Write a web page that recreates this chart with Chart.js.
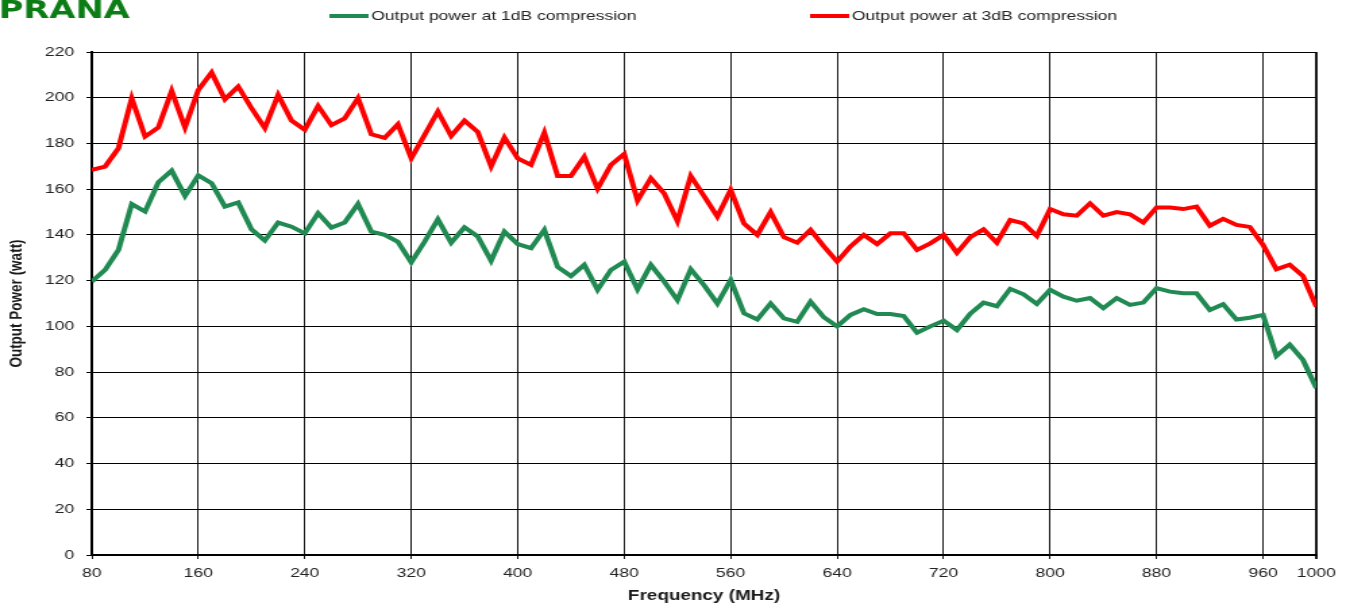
<!DOCTYPE html>
<html>
<head>
<meta charset="utf-8">
<title>Output power vs frequency</title>
<script src="https://cdn.jsdelivr.net/npm/chart.js@4.4.1/dist/chart.umd.min.js"></script>
<style>
  html, body { margin: 0; padding: 0; background: #fff; overflow: hidden; }
</style>
</head>
<body>
<!-- the reference is stretched sideways, so the canvas is drawn narrow and widened by its inline style -->
<canvas id="powerChart" width="997" height="608" style="display:block;width:1346px;height:608px"></canvas>
<script>
// Frequency steps (MHz)
const frequencies = [
    80, 90, 100, 110, 120, 130, 140, 150, 160, 170,
    180, 190, 200, 210, 220, 230, 240, 250, 260, 270,
    280, 290, 300, 310, 320, 330, 340, 350, 360, 370,
    380, 390, 400, 410, 420, 430, 440, 450, 460, 470,
    480, 490, 500, 510, 520, 530, 540, 550, 560, 570,
    580, 590, 600, 610, 620, 630, 640, 650, 660, 670,
    680, 690, 700, 710, 720, 730, 740, 750, 760, 770,
    780, 790, 800, 810, 820, 830, 840, 850, 860, 870,
    880, 890, 900, 910, 920, 930, 940, 950, 960, 970,
    980, 990, 1000
];

// Output power at 1dB compression (watt)
const power1dB = [
    119.6, 124.7, 133.4, 153.5, 150.2, 163, 168.1, 157, 166, 162.6,
    152.4, 154.2, 142.4, 137.5, 145.4, 143.6, 140.7, 149.5, 143.2, 145.4,
    153.5, 141.4, 140, 137, 128, 137, 146.8, 136.6, 143.3, 139.3,
    128.7, 141.4, 136, 134.2, 142.2, 126, 122, 126.9, 116, 124.7,
    128.3, 116.2, 126.9, 119.6, 111.5, 125, 118, 110, 120.3, 105.7,
    103, 110, 103.5, 102, 110.8, 104, 100, 105, 107.5, 105.4,
    105.4, 104.5, 97.2, 100, 102.5, 98.4, 105.5, 110.4, 108.8, 116.4,
    114, 109.8, 116, 113, 111.2, 112.4, 108, 112.4, 109.4, 110.4,
    116.7, 115.2, 114.5, 114.5, 107.2, 109.7, 103, 103.8, 105, 87,
    92, 85.3, 73
];

// Output power at 3dB compression (watt)
const power3dB = [
    168.4, 169.9, 177.9, 199.8, 183, 187, 203, 187, 203.4, 211,
    199.3, 204.9, 195.4, 186.7, 201.2, 190, 186, 196.4, 188, 191,
    199.8, 184, 182.4, 188.4, 173.5, 183.7, 194, 183.3, 190, 185,
    170, 182.6, 173.5, 170.6, 184.7, 165.8, 165.8, 174.2, 160.2, 170.6,
    175.4, 155, 164.8, 158.2, 146, 165.8, 157, 148, 159.7, 145,
    140, 150, 139, 136.6, 142.2, 135, 128.3, 135, 140, 136,
    140.7, 140.7, 133.4, 136.3, 140, 132.2, 139, 142.4, 136.6, 146.5,
    145, 139.5, 151.3, 149, 148.4, 153.8, 148.4, 150, 149, 145.4,
    152, 152, 151.3, 152.4, 144, 147, 144.4, 143.5, 135.6, 125,
    127, 122, 108.6
];

const xTicks = [80, 160, 240, 320, 400, 480, 560, 640, 720, 800, 880, 960, 1000];
const yTicks = [0, 20, 40, 60, 80, 100, 120, 140, 160, 180, 200, 220];

const seriesLabels = ['Output power at 1dB compression', 'Output power at 3dB compression'];

const toPoints = values => values.map((v, i) => ({ x: frequencies[i], y: v }));

const fontFamily = "'Liberation Sans', Arial, sans-serif";

// legend line + logo across the top
const topLegend = {
    id: 'topLegend',
    afterDraw(chart) {
        const ctx = chart.ctx;
        const starts = [244, 600];
        ctx.save();
        ctx.font = '13px ' + fontFamily;
        ctx.textBaseline = 'middle';
        chart.data.datasets.forEach((ds, i) => {
            const x = starts[i];
            ctx.strokeStyle = ds.borderColor;
            ctx.lineWidth = 4;
            ctx.beginPath();
            ctx.moveTo(x, 16);
            ctx.lineTo(x + 29, 16);
            ctx.stroke();
            ctx.fillStyle = '#222';
            ctx.fillText(ds.label, x + 31, 16.5);
        });

        ctx.font = "bold 25px 'DejaVu Sans', sans-serif";
        ctx.textBaseline = 'alphabetic';
        ctx.fillStyle = '#0b7d14';
        ctx.fillText('PRANA', -1, 18);
        ctx.restore();
    }
};

new Chart(document.getElementById('powerChart'), {
    type: 'line',
    data: {
        datasets: [{
            label: seriesLabels[0],
            data: toPoints(power1dB),
            borderColor: '#208a52',
            backgroundColor: '#208a52',
            borderWidth: 4,
            pointRadius: 0,
            tension: 0
        }, {
            label: seriesLabels[1],
            data: toPoints(power3dB),
            borderColor: '#ff0000',
            backgroundColor: '#ff0000',
            borderWidth: 4,
            pointRadius: 0,
            tension: 0
        }]
    },
    options: {
        responsive: false,
        animation: false,
        devicePixelRatio: 1,
        layout: {
            padding: { top: 52, right: 22, left: 0, bottom: 0 }
        },
        plugins: {
            legend: { display: false },
            tooltip: { enabled: false }
        },
        scales: {
            x: {
                type: 'linear',
                min: 80,
                max: 1000,
                afterBuildTicks: axis => { axis.ticks = xTicks.map(v => ({ value: v })); },
                afterFit: axis => { axis.height = 53; },
                ticks: {
                    autoSkip: false,
                    maxRotation: 0,
                    padding: 7,
                    color: '#222',
                    font: { family: fontFamily, size: 13 },
                    callback: v => String(v)
                },
                grid: {
                    color: '#1a1a1a',
                    lineWidth: c => (c.tick && c.tick.value === 1000 ? 2 : 1),
                    tickLength: 4
                },
                border: { color: '#000', width: 2 },
                title: {
                    display: true,
                    text: 'Frequency (MHz)',
                    color: '#1a1a1a',
                    font: { family: fontFamily, size: 14, weight: 'bold' },
                    padding: { top: 0, bottom: 3.6 }
                }
            },
            y: {
                min: 0,
                max: 220,
                afterBuildTicks: axis => { axis.ticks = yTicks.map(v => ({ value: v })); },
                afterFit: axis => { axis.width = 68; },
                ticks: {
                    padding: 9,
                    color: '#222',
                    font: { family: fontFamily, size: 13 },
                    callback: v => String(v)
                },
                grid: {
                    color: '#000',
                    lineWidth: 1,
                    tickLength: 4
                },
                border: { color: '#000', width: 2 },
                title: {
                    display: true,
                    text: 'Output Power (watt)',
                    color: '#1a1a1a',
                    font: { family: fontFamily, size: 13.5, weight: 'bold' },
                    padding: { top: 4.5, bottom: 0 }
                }
            }
        }
    },
    plugins: [topLegend]
});
</script>
</body>
</html>
